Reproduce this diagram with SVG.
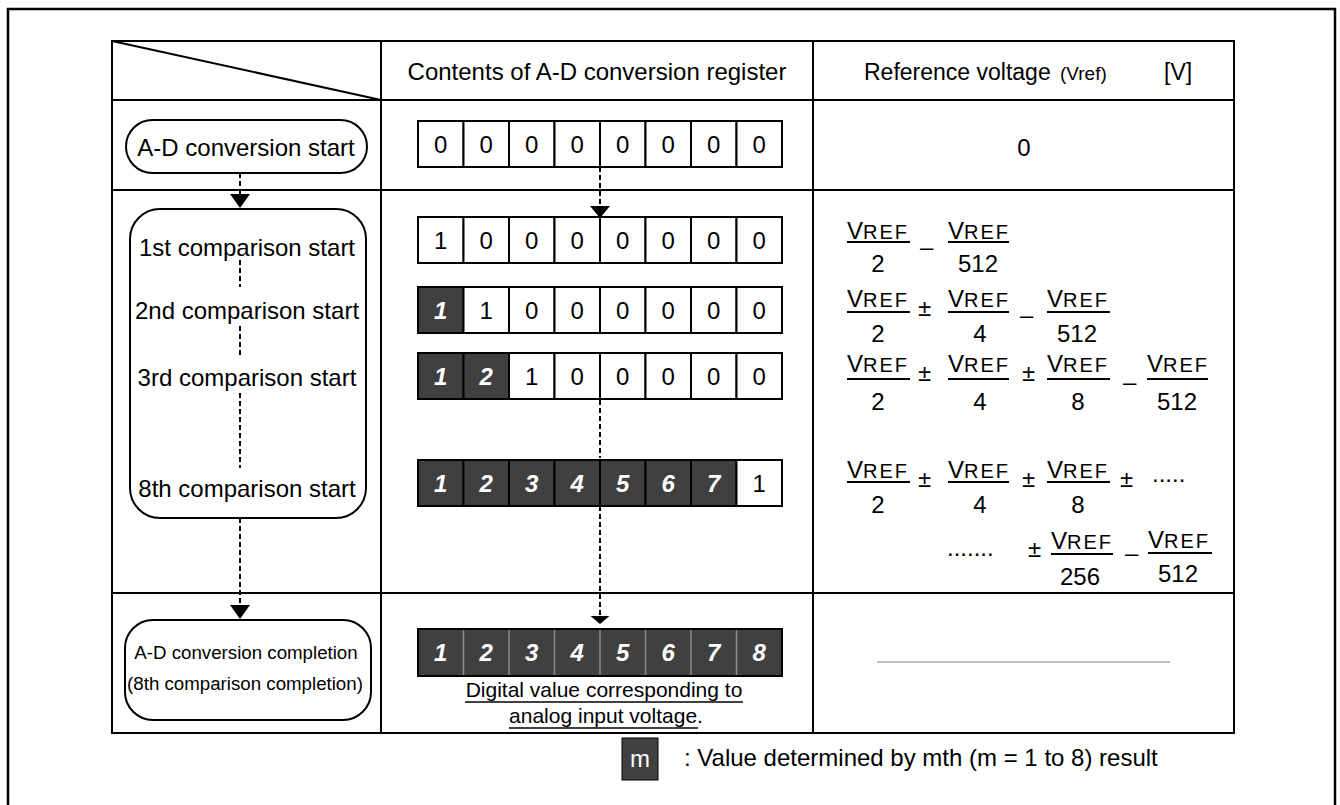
<svg xmlns="http://www.w3.org/2000/svg" width="1340" height="805" viewBox="0 0 1340 805">
<style>
.ln{stroke:#000;stroke-width:2;fill:none}
.t{font-family:"Liberation Sans",Arial,sans-serif;fill:#000}
.cw{fill:#fff;stroke:#000;stroke-width:2}
.cd{fill:#404040;stroke:#000;stroke-width:2}
.dw{font-family:"Liberation Sans",Arial,sans-serif;font-size:24px;text-anchor:middle;fill:#000}
.dd{font-family:"Liberation Sans",Arial,sans-serif;font-size:24px;font-weight:bold;font-style:italic;fill:#fff;text-anchor:middle}
.dash{stroke:#000;stroke-width:2;stroke-dasharray:5 3;fill:none}
.lab{font-size:24px;text-anchor:middle}
.f{font-family:"Liberation Sans",Arial,sans-serif;font-size:24px;fill:#000}
.ref{font-size:20px;letter-spacing:2px}
.den{text-anchor:middle}
.fl{stroke:#000;stroke-width:2}
</style>
<rect x="8" y="9" width="1327" height="820" fill="#fff" stroke="#000" stroke-width="2.5"/>
<g id="table">
<rect x="112" y="41" width="1122" height="692" class="ln"/>
<line x1="112" y1="41" x2="381" y2="100" class="ln"/>
<line x1="381" y1="41" x2="381" y2="733" class="ln"/>
<line x1="813" y1="41" x2="813" y2="733" class="ln"/>
<line x1="112" y1="100" x2="1234" y2="100" class="ln"/>
<line x1="112" y1="190" x2="1234" y2="190" class="ln"/>
<line x1="112" y1="593" x2="1234" y2="593" class="ln"/>
<text x="597" y="80" class="t lab">Contents of A-D conversion register</text>
<text x="864" y="80" class="t" font-size="23">Reference voltage</text>
<text x="1060" y="80" class="t" font-size="19">(Vref)</text>
<text x="1164" y="80" class="t" font-size="23">[V]</text>
</g>
<g id="connectors">
<line x1="240" y1="173" x2="240" y2="194" class="dash"/>
<polygon points="230,194 250,194 240,208"/>
<line x1="240" y1="260" x2="240" y2="287" class="dash"/>
<line x1="240" y1="326" x2="240" y2="357" class="dash"/>
<line x1="240" y1="393" x2="240" y2="468" class="dash"/>
<line x1="240" y1="518" x2="240" y2="605" class="dash"/>
<polygon points="230,605 250,605 240,619"/>
<line x1="600" y1="167" x2="600" y2="206" class="dash"/>
<polygon points="590,206 610,206 600,218"/>
<line x1="600" y1="400" x2="600" y2="458" class="dash"/>
<line x1="600" y1="506" x2="600" y2="616" class="dash"/>
<polygon points="590.5,616 609.5,616 600,624"/>
</g>
<g id="start-node">
<rect x="126" y="120" width="241" height="53" rx="26.5" class="ln"/>
<text x="246" y="155.5" class="t lab">A-D conversion start</text>
</g>
<g id="comparison-node">
<rect x="130" y="209" width="236" height="309" rx="30" class="ln"/>
<text x="247" y="255.5" class="t lab">1st comparison start</text>
<text x="247" y="318.5" class="t lab">2nd comparison start</text>
<text x="247" y="385.5" class="t lab">3rd comparison start</text>
<text x="247" y="496.5" class="t lab">8th comparison start</text>
</g>
<g id="completion-node">
<rect x="125" y="620" width="246" height="100" rx="28" class="ln"/>
<text x="246" y="658.7" class="t" font-size="18.7" text-anchor="middle">A-D conversion completion</text>
<text x="245" y="689.7" class="t" font-size="18.7" text-anchor="middle">(8th comparison completion)</text>
</g>
<g id="reg0">
<rect x="418" y="121" width="45.5" height="46" class="cw"/><rect x="463.5" y="121" width="45.5" height="46" class="cw"/><rect x="509" y="121" width="45.5" height="46" class="cw"/><rect x="554.5" y="121" width="45.5" height="46" class="cw"/><rect x="600" y="121" width="45.5" height="46" class="cw"/><rect x="645.5" y="121" width="45.5" height="46" class="cw"/><rect x="691" y="121" width="45.5" height="46" class="cw"/><rect x="736.5" y="121" width="45.5" height="46" class="cw"/>
<text x="440.75" y="152.5" class="dw">0</text><text x="486.25" y="152.5" class="dw">0</text><text x="531.75" y="152.5" class="dw">0</text><text x="577.25" y="152.5" class="dw">0</text><text x="622.75" y="152.5" class="dw">0</text><text x="668.25" y="152.5" class="dw">0</text><text x="713.75" y="152.5" class="dw">0</text><text x="759.25" y="152.5" class="dw">0</text>
</g>
<g id="reg1">
<rect x="418" y="217" width="45.5" height="46" class="cw"/><rect x="463.5" y="217" width="45.5" height="46" class="cw"/><rect x="509" y="217" width="45.5" height="46" class="cw"/><rect x="554.5" y="217" width="45.5" height="46" class="cw"/><rect x="600" y="217" width="45.5" height="46" class="cw"/><rect x="645.5" y="217" width="45.5" height="46" class="cw"/><rect x="691" y="217" width="45.5" height="46" class="cw"/><rect x="736.5" y="217" width="45.5" height="46" class="cw"/>
<text x="440.75" y="248.5" class="dw">1</text><text x="486.25" y="248.5" class="dw">0</text><text x="531.75" y="248.5" class="dw">0</text><text x="577.25" y="248.5" class="dw">0</text><text x="622.75" y="248.5" class="dw">0</text><text x="668.25" y="248.5" class="dw">0</text><text x="713.75" y="248.5" class="dw">0</text><text x="759.25" y="248.5" class="dw">0</text>
</g>
<g id="reg2">
<rect x="418" y="287" width="45.5" height="46" class="cd"/><rect x="463.5" y="287" width="45.5" height="46" class="cw"/><rect x="509" y="287" width="45.5" height="46" class="cw"/><rect x="554.5" y="287" width="45.5" height="46" class="cw"/><rect x="600" y="287" width="45.5" height="46" class="cw"/><rect x="645.5" y="287" width="45.5" height="46" class="cw"/><rect x="691" y="287" width="45.5" height="46" class="cw"/><rect x="736.5" y="287" width="45.5" height="46" class="cw"/>
<text x="440.75" y="318.5" class="dd">1</text><text x="486.25" y="318.5" class="dw">1</text><text x="531.75" y="318.5" class="dw">0</text><text x="577.25" y="318.5" class="dw">0</text><text x="622.75" y="318.5" class="dw">0</text><text x="668.25" y="318.5" class="dw">0</text><text x="713.75" y="318.5" class="dw">0</text><text x="759.25" y="318.5" class="dw">0</text>
</g>
<g id="reg3">
<rect x="418" y="353" width="45.5" height="46" class="cd"/><rect x="463.5" y="353" width="45.5" height="46" class="cd"/><rect x="509" y="353" width="45.5" height="46" class="cw"/><rect x="554.5" y="353" width="45.5" height="46" class="cw"/><rect x="600" y="353" width="45.5" height="46" class="cw"/><rect x="645.5" y="353" width="45.5" height="46" class="cw"/><rect x="691" y="353" width="45.5" height="46" class="cw"/><rect x="736.5" y="353" width="45.5" height="46" class="cw"/>
<text x="440.75" y="384.5" class="dd">1</text><text x="486.25" y="384.5" class="dd">2</text><text x="531.75" y="384.5" class="dw">1</text><text x="577.25" y="384.5" class="dw">0</text><text x="622.75" y="384.5" class="dw">0</text><text x="668.25" y="384.5" class="dw">0</text><text x="713.75" y="384.5" class="dw">0</text><text x="759.25" y="384.5" class="dw">0</text>
</g>
<g id="reg8">
<rect x="418" y="460" width="45.5" height="46" class="cd"/><rect x="463.5" y="460" width="45.5" height="46" class="cd"/><rect x="509" y="460" width="45.5" height="46" class="cd"/><rect x="554.5" y="460" width="45.5" height="46" class="cd"/><rect x="600" y="460" width="45.5" height="46" class="cd"/><rect x="645.5" y="460" width="45.5" height="46" class="cd"/><rect x="691" y="460" width="45.5" height="46" class="cd"/><rect x="736.5" y="460" width="45.5" height="46" class="cw"/>
<text x="440.75" y="491.5" class="dd">1</text><text x="486.25" y="491.5" class="dd">2</text><text x="531.75" y="491.5" class="dd">3</text><text x="577.25" y="491.5" class="dd">4</text><text x="622.75" y="491.5" class="dd">5</text><text x="668.25" y="491.5" class="dd">6</text><text x="713.75" y="491.5" class="dd">7</text><text x="759.25" y="491.5" class="dw">1</text>
</g>
<g id="reg-final">
<rect x="418" y="629" width="364" height="47" fill="#404040" stroke="#000" stroke-width="2"/>
<g stroke="#8a8a8a" stroke-width="1.5">
<line x1="463.5" y1="630" x2="463.5" y2="675"/><line x1="509" y1="630" x2="509" y2="675"/><line x1="554.5" y1="630" x2="554.5" y2="675"/><line x1="600" y1="630" x2="600" y2="675"/><line x1="645.5" y1="630" x2="645.5" y2="675"/><line x1="691" y1="630" x2="691" y2="675"/><line x1="736.5" y1="630" x2="736.5" y2="675"/>
</g>
<text x="440.75" y="661" class="dd">1</text><text x="486.25" y="661" class="dd">2</text><text x="531.75" y="661" class="dd">3</text><text x="577.25" y="661" class="dd">4</text><text x="622.75" y="661" class="dd">5</text><text x="668.25" y="661" class="dd">6</text><text x="713.75" y="661" class="dd">7</text><text x="759.25" y="661" class="dd">8</text>
<text x="604" y="697" class="t" font-size="21" text-anchor="middle">Digital value corresponding to</text>
<line x1="465" y1="702" x2="743" y2="702" stroke="#000" stroke-width="1.5"/>
<text x="606" y="723" class="t" font-size="21" text-anchor="middle">analog input voltage.</text>
<line x1="509" y1="728" x2="698" y2="728" stroke="#000" stroke-width="1.5"/>
</g>
<g id="vref-0">
<text x="1024" y="155.5" class="dw">0</text>
</g>
<g id="vref-1">
<text x="847" y="239" class="f">V<tspan class="ref">REF</tspan></text><line x1="847" y1="242" x2="910" y2="242" class="fl"/><text x="878" y="272" class="f den">2</text>
<text x="920" y="255" class="f">–</text>
<text x="948" y="239" class="f">V<tspan class="ref">REF</tspan></text><line x1="948" y1="242" x2="1009" y2="242" class="fl"/><text x="978" y="272" class="f den">512</text>
</g>
<g id="vref-2">
<text x="847" y="307" class="f">V<tspan class="ref">REF</tspan></text><line x1="847" y1="312" x2="910" y2="312" class="fl"/><text x="878" y="342" class="f den">2</text>
<text x="918" y="316" class="f">±</text>
<text x="948" y="307" class="f">V<tspan class="ref">REF</tspan></text><line x1="948" y1="312" x2="1009" y2="312" class="fl"/><text x="980" y="342" class="f den">4</text>
<text x="1020" y="323" class="f">–</text>
<text x="1047" y="307" class="f">V<tspan class="ref">REF</tspan></text><line x1="1047" y1="312" x2="1110" y2="312" class="fl"/><text x="1077" y="342" class="f den">512</text>
</g>
<g id="vref-3">
<text x="847" y="372" class="f">V<tspan class="ref">REF</tspan></text><line x1="847" y1="379" x2="910" y2="379" class="fl"/><text x="878" y="410" class="f den">2</text>
<text x="918" y="381" class="f">±</text>
<text x="948" y="372" class="f">V<tspan class="ref">REF</tspan></text><line x1="948" y1="379" x2="1009" y2="379" class="fl"/><text x="980" y="410" class="f den">4</text>
<text x="1022" y="381" class="f">±</text>
<text x="1047" y="372" class="f">V<tspan class="ref">REF</tspan></text><line x1="1047" y1="379" x2="1110" y2="379" class="fl"/><text x="1078" y="410" class="f den">8</text>
<text x="1123" y="390" class="f">–</text>
<text x="1147" y="372" class="f">V<tspan class="ref">REF</tspan></text><line x1="1147" y1="379" x2="1208" y2="379" class="fl"/><text x="1177" y="410" class="f den">512</text>
</g>
<g id="vref-8">
<text x="847" y="478" class="f">V<tspan class="ref">REF</tspan></text><line x1="847" y1="482" x2="910" y2="482" class="fl"/><text x="878" y="513" class="f den">2</text>
<text x="918" y="487" class="f">±</text>
<text x="948" y="478" class="f">V<tspan class="ref">REF</tspan></text><line x1="948" y1="482" x2="1009" y2="482" class="fl"/><text x="980" y="513" class="f den">4</text>
<text x="1022" y="487" class="f">±</text>
<text x="1047" y="478" class="f">V<tspan class="ref">REF</tspan></text><line x1="1047" y1="482" x2="1110" y2="482" class="fl"/><text x="1078" y="513" class="f den">8</text>
<text x="1120" y="487" class="f">±</text>
<text x="1152" y="482" class="f">.....</text>
<text x="947" y="556" class="f">.......</text>
<text x="1028" y="557" class="f">±</text>
<text x="1051" y="549" class="f">V<tspan class="ref">REF</tspan></text><line x1="1051" y1="554" x2="1113" y2="554" class="fl"/><text x="1080" y="585" class="f den">256</text>
<text x="1125" y="561" class="f">–</text>
<text x="1148" y="548" class="f">V<tspan class="ref">REF</tspan></text><line x1="1148" y1="553" x2="1212" y2="553" class="fl"/><text x="1178" y="582" class="f den">512</text>
</g>
<g id="vref-final">
<line x1="877" y1="662" x2="1170" y2="662" stroke="#aaa" stroke-width="1.5"/>
</g>
<g id="legend">
<rect x="622" y="738" width="36" height="42" fill="#404040" stroke="#000" stroke-width="1"/>
<text x="640" y="767" class="t" font-size="24" fill="#fff" text-anchor="middle" style="fill:#fff">m</text>
<text x="684" y="766" class="t" font-size="24">: Value determined by mth (m = 1 to 8) result</text>
</g>
</svg>
